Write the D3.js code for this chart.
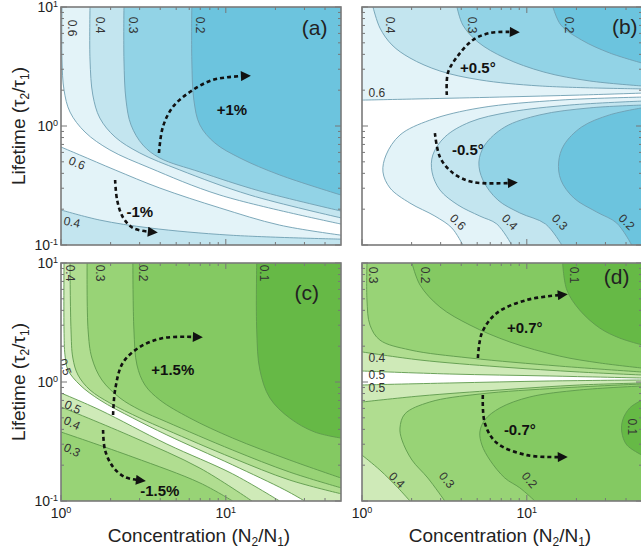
<!DOCTYPE html>
<html><head><meta charset="utf-8">
<script src="https://cdn.jsdelivr.net/npm/d3@7"></script>
<style>body{margin:0;background:#fff}svg{display:block}text{font-family:"Liberation Sans",Arial,Helvetica,sans-serif}</style>
</head><body><svg id="chart" width="641" height="551"></svg>
<script>
// ---------- axes ----------
const xDomain = [1, 50];
const yDomain = [0.1, 10];
const xTickValues = [1, 10];
const xTickLabels = [["10", "0"], ["10", "1"]];
const yTickValues = [0.1, 1, 10];
const yTickLabels = [["10", "-1"], ["10", "0"], ["10", "1"]];
const xMinor = [2, 3, 4, 5, 6, 7, 8, 9, 20, 30, 40];
const yMinor = [0.2, 0.3, 0.4, 0.5, 0.6, 0.7, 0.8, 0.9, 2, 3, 4, 5, 6, 7, 8, 9];

// ---------- panel (a): contours [concentration, lifetime] ----------
const a_06u = [[1.014,10],[1.014,3.59],[1.043,2.01],[1.134,1.31],[1.398,0.890],[1.98,0.629],[3.46,0.444],[9.20,0.263],[50,0.150]];
const a_04u = [[1.50,10],[1.50,3.59],[1.56,1.82],[1.72,1.167],[2.13,0.808],[3.01,0.593],[5.26,0.427],[14.0,0.263],[50,0.169]];
const a_03u = [[2.41,10],[2.41,3.59],[2.48,1.65],[2.66,1.02],[3.14,0.692],[3.98,0.538],[6.96,0.411],[16.1,0.284],[50,0.193]];
const a_02u = [[6.22,10],[6.22,3.59],[6.40,1.65],[6.96,1.02],[8.58,0.720],[12.2,0.538],[21.2,0.388],[50,0.263]];
const a_06l = [[1,0.666],[1.30,0.571],[2.13,0.427],[3.98,0.301],[9.20,0.205],[21.2,0.147],[50,0.121]];
const a_04l = [[1,0.197],[1.72,0.162],[3.46,0.139],[10.6,0.121],[50,0.112]];
const a_labels = [["0.6",1.166,6.66,90],["0.4",1.72,7.06,90],["0.3",2.73,7.06,90],["0.2",6.96,7.06,90],["0.6",1.25,0.489,22],["0.4",1.166,0.156,12]];
const a_notes = [["+1%",10.9,1.36],["-1%",3.01,0.189]];
const a_arrowUp = [[3.93,0.593],[4.15,0.981],[4.77,1.445],[6.05,1.93],[8.34,2.44],[12.7,2.63]];
const a_arrowDown = [[2.13,0.352],[2.19,0.239],[2.37,0.172],[2.73,0.139],[3.46,0.129]];

// ---------- panel (b) ----------
const b_06u = [[1,1.65],[2.25,1.69],[6.86,1.75],[20.9,1.82],[50,1.89]];
const b_04u = [[1.166,10],[1.285,6.66],[1.52,4.80],[1.954,3.73],[2.97,2.90],[5.19,2.44],[12.0,2.17],[50,2.05]];
const b_03u = [[3.77,10],[4.09,7.06],[5.05,5.08],[7.36,3.73],[12.7,2.84],[24.1,2.39],[50,2.17]];
const b_02u = [[14.4,10],[16.1,7.06],[21.5,5.28],[31.8,4.11],[50,3.38]];
const b_06l = [[50,1.75],[15.85,1.65],[5.19,1.42],[2.58,1.12],[1.70,0.840],[1.40,0.571],[1.34,0.411],[1.48,0.301],[1.954,0.225],[2.77,0.175],[3.51,0.139],[4.09,0.1]];
const b_04l = [[50,1.62],[18.2,1.50],[7.89,1.31],[4.52,1.08],[3.18,0.808],[2.69,0.571],[2.66,0.411],[2.97,0.290],[3.82,0.217],[5.19,0.175],[6.58,0.150],[8.11,0.1]];
const b_03l = [[50,1.50],[24.1,1.42],[12.0,1.24],[7.36,0.981],[5.56,0.692],[5.12,0.498],[5.41,0.352],[6.67,0.239],[9.07,0.186],[13.0,0.150],[16.3,0.1]];
const b_02l = [[50,1.42],[31.8,1.24],[21.5,0.981],[16.8,0.692],[15.6,0.498],[16.1,0.352],[19.3,0.248],[26.6,0.189],[35.1,0.153],[43.3,0.1]];
const b_labels = [["0.4",1.48,7.06,90],["0.3",4.64,7.06,90],["0.2",18.2,7.06,90],["0.6",1.23,1.90,0],["0.6",3.82,0.156,45],["0.4",7.89,0.156,45],["0.3",15.85,0.156,45],["0.2",40.4,0.156,45]];
const b_notes = [["+0.5°",5.05,3.07],["-0.5°",4.39,0.629]];
const b_arrowUp = [[3.27,1.82],[3.32,2.79],[3.77,3.80],[4.71,5.28],[5.97,6.05],[8.11,6.17]];
const b_arrowDown = [[2.77,0.873],[2.97,0.549],[3.56,0.403],[4.71,0.338],[7.89,0.332]];

// ---------- panel (c) ----------
const c_05u = [[1.043,10],[1.043,2.74],[1.057,1.69],[1.103,1.26],[1.304,0.944],[1.72,0.706],[2.73,0.498],[4.39,0.359],[11.0,0.201],[22.8,0.124],[30.1,0.1]];
const c_04u = [[1.134,10],[1.15,2.74],[1.18,1.59],[1.268,1.145],[1.50,0.857],[1.98,0.666],[3.01,0.498],[4.39,0.395],[11.0,0.230],[24.4,0.150],[50,0.115]];
const c_03u = [[1.44,10],[1.46,2.74],[1.54,1.59],[1.77,1.04],[2.28,0.734],[3.01,0.582],[4.39,0.461],[11.0,0.268],[24.4,0.175],[50,0.129]];
const c_02u = [[2.73,10],[2.77,2.74],[2.89,1.39],[3.23,0.944],[3.98,0.706],[6.05,0.498],[11.0,0.338],[24.4,0.221],[50,0.156]];
const c_01u = [[15.4,10],[15.4,2.74],[16.1,1.26],[18.5,0.734],[24.4,0.498],[34.6,0.380],[50,0.338]];
const c_05l = [[1,0.808],[1.72,0.582],[4.39,0.301],[11.0,0.169],[21.2,0.1]];
const c_04l = [[1,0.617],[2.73,0.345],[6.96,0.189],[14.4,0.1]];
const c_03l = [[1,0.380],[2.73,0.234],[6.96,0.142],[11.0,0.1]];
const c_labels = [["0.4",1.134,8.24,90],["0.3",1.72,8.24,90],["0.2",3.14,8.24,90],["0.1",17.2,8.24,90],["0.5",1.06,1.34,70],["0.5",1.18,0.617,25],["0.4",1.166,0.452,25],["0.3",1.166,0.268,25]];
const c_notes = [["+1.5%",4.77,1.26],["-1.5%",3.98,0.121]];
const c_arrowUp = [[2.07,0.528],[2.13,0.857],[2.37,1.445],[3.01,1.97],[4.15,2.34],[6.49,2.39]];
const c_arrowDown = [[1.80,0.395],[1.85,0.268],[2.07,0.193],[2.44,0.159],[2.93,0.150]];

// ---------- panel (d) ----------
const d_01u = [[16.5,10],[17.5,5.93],[20.9,4.03],[27.7,2.84],[36.6,2.34],[50,2.05]];
const d_02u = [[2.01,10],[2.25,6.53],[2.97,4.27],[4.52,3.01],[7.89,2.17],[15.85,1.65],[27.7,1.445],[50,1.31]];
const d_03u = [[1.072,10],[1.072,4.89],[1.118,3.01],[1.285,2.25],[1.954,1.86],[4.52,1.59],[15.85,1.36],[50,1.213]];
const d_04u = [[1,1.79],[2.25,1.53],[6.86,1.34],[20.9,1.213],[50,1.145]];
const d_05u = [[1,1.237],[3.41,1.167],[13.8,1.123],[50,1.08]];
const d_05l = [[1,0.944],[3.41,0.981],[13.8,1.02],[50,1.04]];
const d_04l = [[1,0.679],[2.25,0.763],[6.86,0.857],[20.9,0.944],[50,0.981]];
const d_04c = [[1,0.243],[1.285,0.182],[1.653,0.129],[1.954,0.1]];
const d_03l = [[50,0.962],[15.85,0.890],[5.19,0.793],[2.58,0.679],[1.82,0.539],[1.70,0.411],[1.747,0.326],[2.01,0.221],[2.51,0.156],[3.18,0.1]];
const d_02l = [[50,0.926],[20.9,0.857],[10.4,0.748],[6.86,0.605],[5.56,0.480],[5.19,0.380],[5.34,0.296],[5.97,0.221],[7.36,0.156],[9.07,0.129],[11.2,0.1]];
const d_01l = [[50,0.706],[42.1,0.605],[38.2,0.480],[37.7,0.380],[40.4,0.296],[50,0.243]];
const d_labels = [["0.3",1.166,7.93,90],["0.2",2.41,7.93,90],["0.1",19.5,7.93,90],["0.4",1.23,1.59,0],["0.5",1.23,1.145,0],["0.5",1.23,0.890,0],["0.4",1.63,0.150,45],["0.3",3.27,0.150,50],["0.2",10.4,0.150,50],["0.1",43.9,0.419,90]];
const d_notes = [["+0.7°",9.72,2.84],["-0.7°",9.07,0.395]];
const d_arrowUp = [[5.05,1.59],[5.34,2.58],[6.58,3.80],[10.0,4.89],[15.85,5.38]];
const d_arrowDown = [[5.41,0.778],[5.56,0.452],[6.58,0.307],[10.0,0.243],[15.85,0.234]];

// panel letters [text, concentration, lifetime]
const letters = [["(a)",34.6,6.66],["(b)",39.3,6.79],["(c)",31.0,5.6],["(d)",35.1,7.62]];

// ---------- styles ----------
const BLUE = ['#e3f3f8','#c3e5ef','#92d3e6','#6cc4de'];
const GREEN = ['#cfeab8','#b0dd90','#98d376','#84c962','#66b946'];

const panels = [
  {id:'a', left:61, top:7, stroke:'#6f9fb2', letter:letters[0], labels:a_labels, notes:a_notes, arrows:[a_arrowUp,a_arrowDown], yAxis:true, xAxis:false,
   regions:[{p:a_06u,c:['TR'],f:BLUE[0]},{p:a_04u,c:['TR'],f:BLUE[1]},{p:a_03u,c:['TR'],f:BLUE[2]},{p:a_02u,c:['TR'],f:BLUE[3]},
            {p:a_06l,c:['BR','BL'],f:BLUE[0]},{p:a_04l,c:['BR','BL'],f:BLUE[1]}]},
  {id:'b', left:362, top:7, stroke:'#6f9fb2', letter:letters[1], labels:b_labels, notes:b_notes, arrows:[b_arrowUp,b_arrowDown], yAxis:false, xAxis:false,
   regions:[{p:b_06u,c:['TR','TL'],f:BLUE[0]},{p:b_04u,c:['TR'],f:BLUE[1]},{p:b_03u,c:['TR'],f:BLUE[2]},{p:b_02u,c:['TR'],f:BLUE[3]},
            {p:b_06l,c:['BR'],f:BLUE[0]},{p:b_04l,c:['BR'],f:BLUE[1]},{p:b_03l,c:['BR'],f:BLUE[2]},{p:b_02l,c:['BR'],f:BLUE[3]}]},
  {id:'c', left:61, top:263, stroke:'#5e9a4c', letter:letters[2], labels:c_labels, notes:c_notes, arrows:[c_arrowUp,c_arrowDown], yAxis:true, xAxis:true,
   regions:[{p:c_05u,c:['BR','TR'],f:GREEN[0]},{p:c_04u,c:['TR'],f:GREEN[1]},{p:c_03u,c:['TR'],f:GREEN[2]},{p:c_02u,c:['TR'],f:GREEN[3]},{p:c_01u,c:['TR'],f:GREEN[4]},
            {p:c_05l,c:['BL'],f:GREEN[0]},{p:c_04l,c:['BL'],f:GREEN[1]},{p:c_03l,c:['BL'],f:GREEN[2]}]},
  {id:'d', left:362, top:263, stroke:'#5e9a4c', letter:letters[3], labels:d_labels, notes:d_notes, arrows:[d_arrowUp,d_arrowDown], yAxis:false, xAxis:true,
   regions:[{p:d_05u,c:['TR','TL'],f:GREEN[0]},{p:d_04u,c:['TR','TL'],f:GREEN[1]},{p:d_03u,c:['TR'],f:GREEN[2]},{p:d_02u,c:['TR'],f:GREEN[3]},{p:d_01u,c:['TR'],f:GREEN[4]},
            {p:d_05l,c:['BR','BL'],f:GREEN[0]},{p:d_04l,c:['BR','BL'],f:GREEN[1]},{p:d_04c,c:['BL'],f:GREEN[0]},
            {p:d_03l,c:['BR'],f:GREEN[2]},{p:d_02l,c:['BR'],f:GREEN[3]},{p:d_01l,c:[],f:GREEN[4]}]}
];

const W = 280, H = 238;
const svg = d3.select('#chart');
const defs = svg.append('defs');
defs.append('marker').attr('id','ah').attr('viewBox','0 0 10 10').attr('refX',2).attr('refY',5)
  .attr('markerWidth',12).attr('markerHeight',10).attr('markerUnits','userSpaceOnUse').attr('orient','auto')
  .append('path').attr('d','M0,0 L10,5 L0,10 Z').attr('fill','#111');

panels.forEach(p => {
  const x = d3.scaleLog().domain(xDomain).range([p.left, p.left + W]);
  const y = d3.scaleLog().domain(yDomain).range([p.top + H, p.top]);
  const corner = {TR:[xDomain[1],yDomain[1]], TL:[xDomain[0],yDomain[1]], BR:[xDomain[1],yDomain[0]], BL:[xDomain[0],yDomain[0]]};
  const line = d3.line().x(d => x(d[0])).y(d => y(d[1])).curve(d3.curveCatmullRom.alpha(0.5));
  defs.append('clipPath').attr('id','clip-'+p.id).append('rect')
    .attr('x',p.left).attr('y',p.top).attr('width',W).attr('height',H);
  const g = svg.append('g');
  const body = g.append('g').attr('clip-path',`url(#clip-${p.id})`);
  body.append('rect').attr('x',p.left).attr('y',p.top).attr('width',W).attr('height',H).attr('fill','#fff');
  p.regions.forEach(r => {
    const d = line(r.p) + r.c.map(k => `L${x(corner[k][0])},${y(corner[k][1])}`).join('') + 'Z';
    body.append('path').attr('d', d).attr('fill', r.f);
  });
  p.regions.forEach(r => {
    body.append('path').attr('d', line(r.p)).attr('fill','none').attr('stroke',p.stroke).attr('stroke-width',0.9);
  });
  // contour labels
  p.labels.forEach(l => {
    body.append('text').attr('transform',`translate(${x(l[1])},${y(l[2])}) rotate(${l[3]})`)
      .attr('text-anchor','middle').attr('dy','0.35em').attr('font-size',12).attr('fill','#333').text(l[0]);
  });
  // arrows
  const aline = d3.line().x(d => x(d[0])).y(d => y(d[1])).curve(d3.curveCatmullRom.alpha(0.5));
  p.arrows.forEach(a => {
    body.append('path').attr('d', aline(a)).attr('fill','none').attr('stroke','#111')
      .attr('stroke-width',2.6).attr('stroke-dasharray','4 3').attr('marker-end','url(#ah)');
  });
  p.notes.forEach(n => {
    body.append('text').attr('x',x(n[1])).attr('y',y(n[2])).attr('dy','0.35em').attr('text-anchor','middle')
      .attr('font-size',15).attr('font-weight','bold').attr('fill','#111').text(n[0]);
  });
  body.append('text').attr('x',x(p.letter[1])).attr('y',y(p.letter[2])).attr('dy','0.35em').attr('text-anchor','middle')
    .attr('font-family','"Liberation Serif","Times New Roman",serif').attr('font-size',21).attr('fill','#222').text(p.letter[0]);
  // ticks
  const tk = g.append('g').attr('stroke','#777').attr('stroke-width',1);
  const xt = xTickValues.concat(xMinor).map(v => ({v, len: xTickValues.includes(v) ? 6 : 3}));
  xt.forEach(t => {
    tk.append('line').attr('x1',x(t.v)).attr('x2',x(t.v)).attr('y1',p.top+H).attr('y2',p.top+H-t.len);
    tk.append('line').attr('x1',x(t.v)).attr('x2',x(t.v)).attr('y1',p.top).attr('y2',p.top+t.len);
  });
  const yt = yTickValues.concat(yMinor).map(v => ({v, len: yTickValues.includes(v) ? 6 : 3}));
  yt.forEach(t => {
    tk.append('line').attr('y1',y(t.v)).attr('y2',y(t.v)).attr('x1',p.left).attr('x2',p.left+t.len);
    tk.append('line').attr('y1',y(t.v)).attr('y2',y(t.v)).attr('x1',p.left+W).attr('x2',p.left+W-t.len);
  });
  g.append('rect').attr('x',p.left).attr('y',p.top).attr('width',W).attr('height',H)
    .attr('fill','none').attr('stroke','#7a7a7a').attr('stroke-width',1.6);
  // tick labels
  if (p.yAxis) {
    yTickValues.forEach((v,i) => {
      const t = g.append('text').attr('x',p.left-3).attr('y',y(v)).attr('dy','0.35em').attr('text-anchor','end')
        .attr('font-size',14).attr('fill','#222');
      t.append('tspan').text(yTickLabels[i][0]);
      t.append('tspan').attr('dy','-0.55em').attr('font-size',9).text(yTickLabels[i][1]);
    });
  }
  if (p.xAxis) {
    xTickValues.forEach((v,i) => {
      const t = g.append('text').attr('x',x(v)).attr('y',p.top+H+17).attr('text-anchor','middle')
        .attr('font-size',14).attr('fill','#222');
      t.append('tspan').text(xTickLabels[i][0]);
      t.append('tspan').attr('dy','-0.55em').attr('font-size',9).text(xTickLabels[i][1]);
    });
    const t = g.append('text').attr('x',p.left+W/2-2).attr('y',p.top+H+41).attr('text-anchor','middle')
      .attr('font-size',19).attr('fill','#222');
    t.append('tspan').text('Concentration (N');
    t.append('tspan').attr('dy',4).attr('font-size',12).text('2');
    t.append('tspan').attr('dy',-4).text('/N');
    t.append('tspan').attr('dy',4).attr('font-size',12).text('1');
    t.append('tspan').attr('dy',-4).text(')');
  }
  if (p.yAxis) {
    const t = g.append('text').attr('transform',`translate(25,${p.top+H/2}) rotate(-90)`).attr('text-anchor','middle')
      .attr('font-size',19).attr('fill','#222');
    t.append('tspan').text('Lifetime (τ');
    t.append('tspan').attr('dy',4).attr('font-size',12).text('2');
    t.append('tspan').attr('dy',-4).text('/τ');
    t.append('tspan').attr('dy',4).attr('font-size',12).text('1');
    t.append('tspan').attr('dy',-4).text(')');
  }
});
</script>
</body></html>
